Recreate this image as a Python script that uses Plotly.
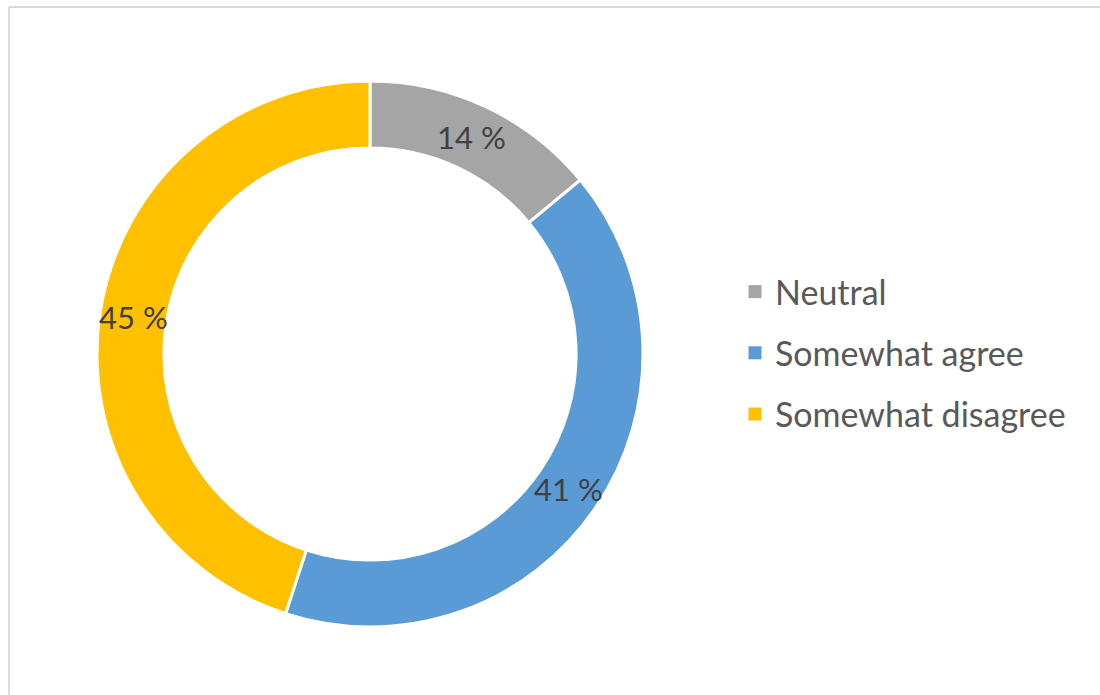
import math
import plotly.graph_objects as go

# Survey response shares (percent)
categories = ["Neutral", "Somewhat agree", "Somewhat disagree"]
shares = [14, 41, 45]
slice_colors = ["#A5A5A5", "#5B9BD5", "#FFC000"]
slice_text = [f"{v} %" for v in shares]

FONT = "Lato"
W, H = 1100, 695

# Donut geometry (pixels; figure has no margins so paper == page)
CX, CY, R_OUT = 370, 354, 273
HOLE = 0.755
R_MID = R_OUT * (1 + HOLE) / 2

fig = go.Figure()

fig.add_trace(go.Pie(
    labels=categories,
    values=shares,
    textinfo="none",
    hole=HOLE,
    sort=False,
    direction="clockwise",
    rotation=0,
    marker=dict(colors=slice_colors, line=dict(color="white", width=3)),
    domain=dict(x=[(CX - R_OUT) / W, (CX + R_OUT) / W],
                y=[1 - (CY + R_OUT) / H, 1 - (CY - R_OUT) / H]),
    showlegend=False,
    hoverinfo="label+percent",
))

# Value labels centred in the ring at each slice's mid-angle
total = sum(shares)
start = 0.0
annotations = []
for v, txt in zip(shares, slice_text):
    mid = (start + v / 2) / total * 2 * math.pi
    start += v
    px = CX + R_MID * math.sin(mid)
    py = CY - R_MID * math.cos(mid)
    annotations.append(dict(
        x=px / W, y=1 - py / H, xref="paper", yref="paper",
        text=txt, showarrow=False, xanchor="center", yanchor="middle",
        font=dict(family=FONT, size=31, color="#404040"),
    ))

# Legend entries, one group each so rows can be spaced apart
for name, color in zip(categories, slice_colors):
    fig.add_trace(go.Scatter(
        x=[None], y=[None], mode="markers",
        marker=dict(symbol="square", size=13, color=color),
        name=name, legendgroup=name, showlegend=True,
    ))

fig.update_layout(
    width=W, height=H,
    margin=dict(l=0, r=0, t=0, b=0),
    paper_bgcolor="white",
    plot_bgcolor="white",
    xaxis=dict(visible=False),
    yaxis=dict(visible=False),
    annotations=annotations,
    legend=dict(
        x=735 / W, y=1 - 353 / H, xanchor="left", yanchor="middle",
        font=dict(family=FONT, size=34, color="#595959"),
        tracegroupgap=14,
        itemsizing="trace",
        bgcolor="rgba(0,0,0,0)",
    ),
    shapes=[
        dict(type="line", xref="paper", yref="paper",
             x0=9 / W, x1=1, y0=1 - 7 / H, y1=1 - 7 / H,
             line=dict(color="#D9D9D9", width=2)),
        dict(type="line", xref="paper", yref="paper",
             x0=9 / W, x1=9 / W, y0=0, y1=1 - 7 / H,
             line=dict(color="#D9D9D9", width=2)),
    ],
)

fig.write_html("out.html")
